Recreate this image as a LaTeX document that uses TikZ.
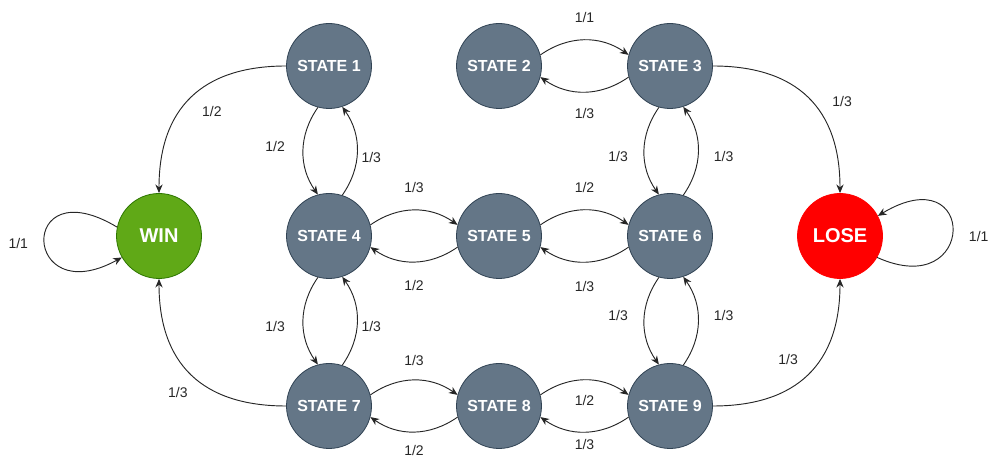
\documentclass[tikz,border=0pt]{standalone}
\usepackage{fontspec}
\setmainfont{Liberation Sans}
\usetikzlibrary{arrows.meta}
\definecolor{stfill}{HTML}{647687}
\definecolor{stline}{HTML}{314354}
\definecolor{winfill}{HTML}{60A917}
\definecolor{winline}{HTML}{2D7600}
\definecolor{losefill}{HTML}{FF0000}
\tikzset{
	statenode/.style={circle, draw=stline, fill=stfill, line width=0.6pt, minimum size=63.75pt, inner sep=0pt, text=white, font=\bfseries\fontsize{12}{14}\selectfont},
	winnode/.style={statenode, draw=winline, fill=winfill, font=\bfseries\fontsize{15}{18}\selectfont},
	losenode/.style={statenode, draw=losefill, fill=losefill, font=\bfseries\fontsize{15}{18}\selectfont},
	trans/.style={-{Stealth[length=6.5pt,width=5.5pt]}, line width=0.7pt, draw=black!85},
	prob/.style={font=\fontsize{10.5}{12}\selectfont, inner sep=1pt, text=black!85},
}

\begin{document}
\begin{tikzpicture}[x=0.75pt, y=0.75pt]
		%%%%% START %%%%%
		\useasboundingbox (0, 0) rectangle (988, 463);
		
		\node[statenode] (s1) at (329, 397) {STATE 1};
		\node[statenode] (s2) at (499, 397) {STATE 2};
		\node[statenode] (s3) at (670, 397) {STATE 3};
		\node[winnode] (win) at (159, 227) {WIN};
		\node[statenode] (s4) at (329, 227) {STATE 4};
		\node[statenode] (s5) at (499, 227) {STATE 5};
		\node[statenode] (s6) at (670, 227) {STATE 6};
		\node[losenode] (lose) at (840, 227) {LOSE};
		\node[statenode] (s7) at (329, 57) {STATE 7};
		\node[statenode] (s8) at (499, 57) {STATE 8};
		\node[statenode] (s9) at (670, 57) {STATE 9};
		
		% absorbing loops
		\draw[trans] (win.168) .. controls +(-100, 60) and +(-100, -55) .. node[prob, left=11pt, yshift=-2pt] {1/1} (win.210);
		\draw[trans] (lose.-30) .. controls +(100, -45) and +(100, 60) .. node[prob, right=11pt, yshift=-4pt] {1/1} (lose.28);
		
		% into win and lose
		\draw[trans] (s1.west) to[out=180, in=90, looseness=1.2] node[prob, xshift=15.75pt, yshift=-10.5pt] {1/2} (win.north);
		\draw[trans] (s7.west) to[out=180, in=-90, looseness=1.2] node[prob, xshift=-9.75pt, yshift=-13.5pt] {1/3} (win.south);
		\draw[trans] (s3.east) to[out=0, in=90, looseness=1.2] node[prob, xshift=25.5pt, yshift=-3pt] {1/3} (lose.north);
		\draw[trans] (s9.east) to[out=0, in=-90, looseness=1.2] node[prob, xshift=-15pt, yshift=11pt] {1/3} (lose.south);
		
		% horizontal pairs
		\draw[trans] (s2.15) to[bend left=35] node[prob, above=12pt] {1/1} (s3.165);
		\draw[trans] (s3.-165) to[bend left=35] node[prob, below=11pt] {1/3} (s2.-15);
		\draw[trans] (s4.15) to[bend left=35] node[prob, above=12pt] {1/3} (s5.165);
		\draw[trans] (s5.-165) to[bend left=35] node[prob, below=13pt] {1/2} (s4.-15);
		\draw[trans] (s5.15) to[bend left=35] node[prob, above=12pt] {1/2} (s6.165);
		\draw[trans] (s6.-165) to[bend left=35] node[prob, below=13pt] {1/3} (s5.-15);
		\draw[trans] (s7.15) to[bend left=35] node[prob, above=10pt] {1/3} (s8.165);
		\draw[trans] (s8.-165) to[bend left=35] node[prob, below=9pt] {1/2} (s7.-15);
		\draw[trans] (s8.15) to[bend left=35] node[prob, below=10pt] {1/2} (s9.165);
		\draw[trans] (s9.-165) to[bend left=35] node[prob, below=4pt] {1/3} (s8.-15);
		
		% vertical pairs
		\draw[trans] (s1.-105) to[bend right=35] node[prob, left=12.5pt, yshift=3pt] {1/2} (s4.105);
		\draw[trans] (s4.72) to[bend right=35] node[prob, right=2pt, yshift=-5pt] {1/3} (s1.-72);
		\draw[trans] (s4.-105) to[bend right=35] node[prob, left=12.5pt, yshift=-4pt] {1/3} (s7.105);
		\draw[trans] (s7.72) to[bend right=35] node[prob, right=2pt, yshift=-4pt] {1/3} (s4.-72);
		\draw[trans] (s3.-105) to[bend right=35] node[prob, left=11pt, yshift=-4pt] {1/3} (s6.105);
		\draw[trans] (s6.72) to[bend right=35] node[prob, right=10.5pt, yshift=-4pt] {1/3} (s3.-72);
		\draw[trans] (s6.-105) to[bend right=35] node[prob, left=11pt, yshift=4pt] {1/3} (s9.105);
		\draw[trans] (s9.72) to[bend right=35] node[prob, right=10.5pt, yshift=4pt] {1/3} (s6.-72);
		
		%%%%% END %%%%%
\end{tikzpicture}
\end{document}
